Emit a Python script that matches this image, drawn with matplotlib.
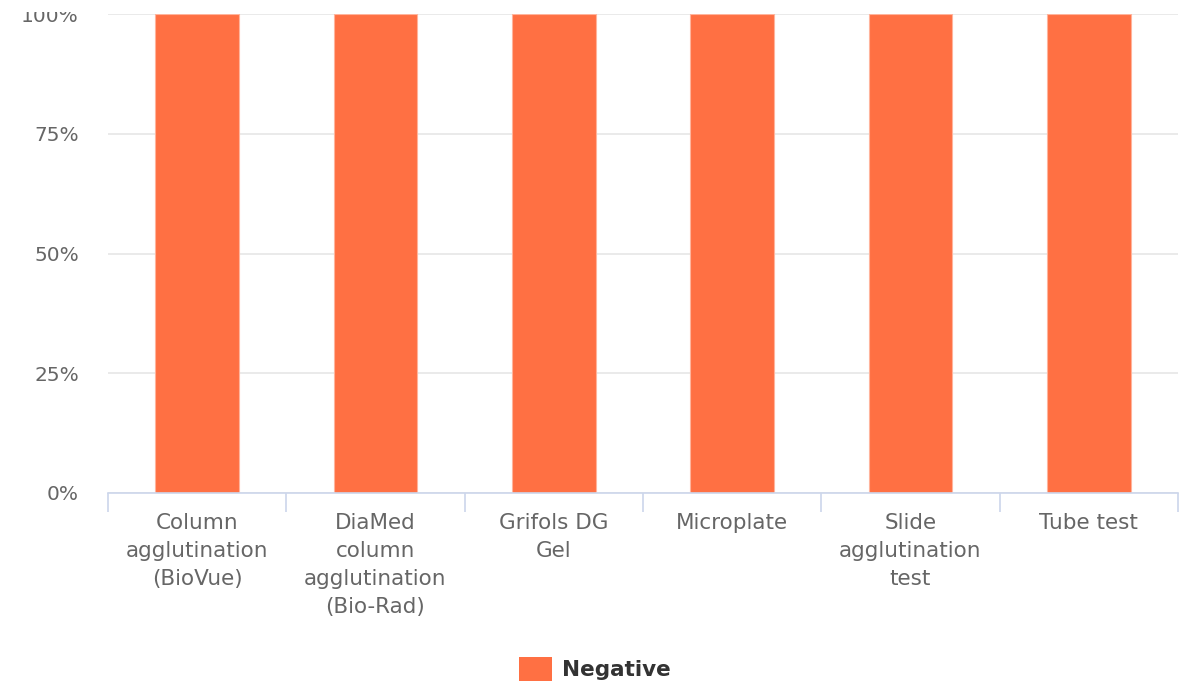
import matplotlib
matplotlib.use("Agg")
import matplotlib.pyplot as plt
from matplotlib.patches import Patch, Rectangle
import numpy as np

categories = ["Column\nagglutination\n(BioVue)",
              "DiaMed\ncolumn\nagglutination\n(Bio-Rad)",
              "Grifols DG\nGel",
              "Microplate",
              "Slide\nagglutination\ntest",
              "Tube test"]
negative = [100, 100, 100, 100, 100, 100]
yticks = [0, 25, 50, 75, 100]
series_name = "Negative"

W, H = 1196, 695
fig = plt.figure(figsize=(W / 100, H / 100), dpi=100)
ax = fig.add_axes([108 / W, 1 - 493 / H, (1178 - 108) / W, (493 - 14) / H])

x = np.arange(len(categories))
ax.bar(x, negative, width=0.47, color="#ff7043", edgecolor="#ffb49c",
       linewidth=0.8, zorder=3)

ax.set_xlim(-0.5, len(categories) - 0.5)
ax.set_ylim(0, 100)
ax.set_yticks(yticks)
ax.set_yticklabels([f"{v}%" for v in yticks])
ax.yaxis.grid(True, color="#e6e6e6", linewidth=1.2, zorder=0)
ax.set_axisbelow(True)

for s in ["top", "right", "left"]:
    ax.spines[s].set_visible(False)
ax.spines["bottom"].set_color("#ccd6eb")
ax.spines["bottom"].set_linewidth(1.2)
ax.spines["bottom"].set_zorder(4)

ax.set_xticks(x)
ax.set_xticklabels(categories, linespacing=1.49)
ax.set_xticks(np.arange(len(categories) + 1) - 0.5, minor=True)
ax.tick_params(axis="x", which="major", length=0, pad=14.5,
               labelsize=15.5, labelcolor="#666666")
ax.tick_params(axis="x", which="minor", length=14, width=1.2, color="#ccd6eb")
ax.tick_params(axis="y", length=0, pad=21, labelsize=14.5, labelcolor="#666666")

handles = [Patch(facecolor="#ff7043", edgecolor="none", label=series_name)]
fig.legend(handles=handles, loc="center", bbox_to_anchor=(0.497, 1 - 669 / H),
           frameon=False, handlelength=1.55, handleheight=1.3, handletextpad=0.45,
           prop={"weight": "bold", "size": 15.5}, labelcolor="#333333")

# the top of the image is cropped just above the top gridline
fig.patches.append(Rectangle((0, 1 - 12 / H), 1, 12 / H, transform=fig.transFigure,
                             facecolor="white", edgecolor="none", zorder=10))

fig.savefig("out.png", dpi=100, facecolor="white")
